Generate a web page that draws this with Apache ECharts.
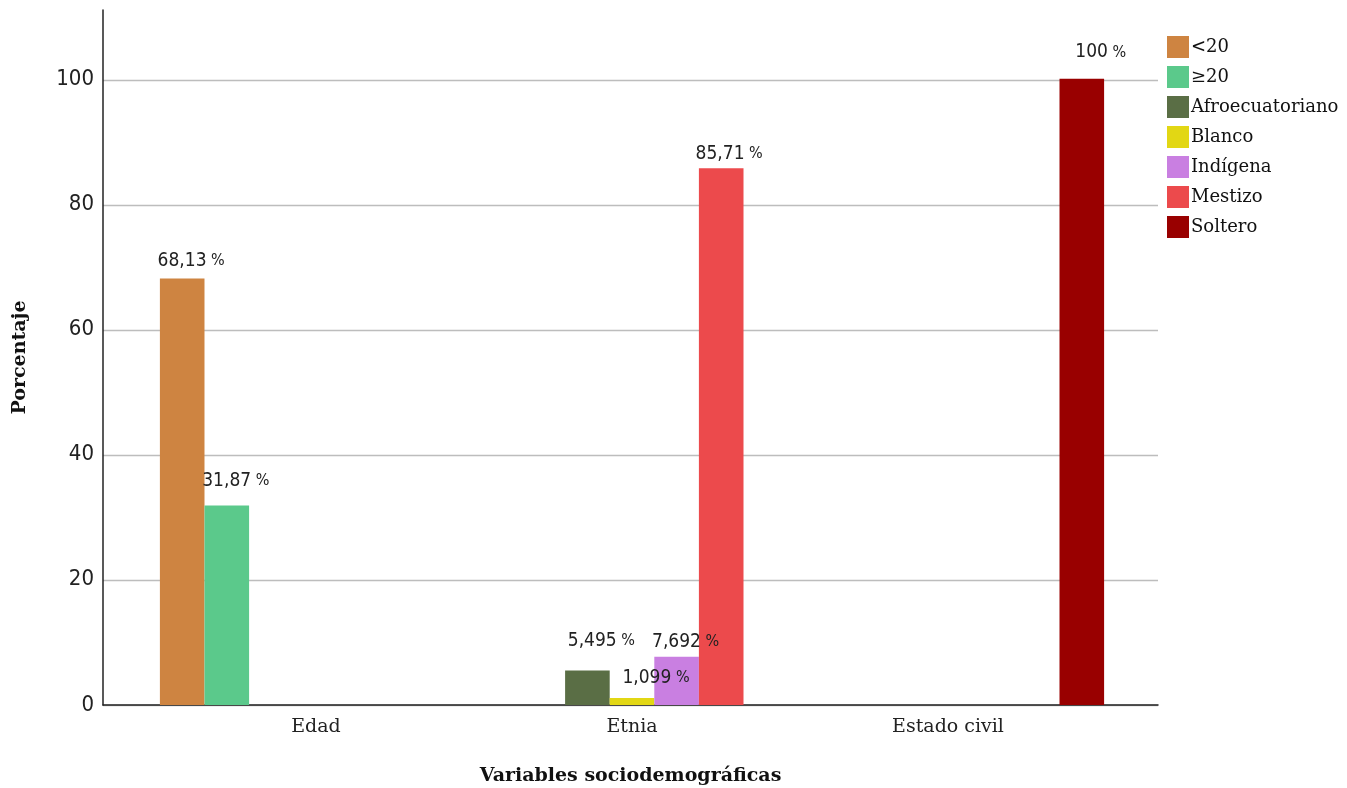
<!DOCTYPE html>
<html><head><meta charset="utf-8">
<script src="https://cdn.jsdelivr.net/npm/echarts@6/dist/echarts.min.js"></script>
<style>html,body{margin:0;padding:0;background:#fff}#c{width:1347px;height:788px}</style>
</head><body><div id="c"></div>
<script>
const categories = ['Edad', 'Etnia', 'Estado civil'];
const seriesNames = ['<20', '≥20', 'Afroecuatoriano', 'Blanco', 'Indígena', 'Mestizo', 'Soltero'];
const v_lt20 = [68.13, null, null];
const v_ge20 = [31.87, null, null];
const v_afro = [null, 5.495, null];
const v_blanco = [null, 1.099, null];
const v_indigena = [null, 7.692, null];
const v_mestizo = [null, 85.71, null];
const v_soltero = [null, null, 100];
const yTicks = [0, 20, 40, 60, 80, 100];

const seriesValues = [v_lt20, v_ge20, v_afro, v_blanco, v_indigena, v_mestizo, v_soltero];
const colors = ['#CE8441', '#5BC98B', '#5A6E45', '#E2D714', '#C97FE1', '#EC4A4C', '#990000'];
const labelShiftX = [9, 9, 14, 24, 9, 8, 19];
const labelLift = [-3, -10, -15, -6, 0, 0, -12];

const serifFont = 'DejaVu Serif';
const sansFont = "'DejaVu Sans Condensed', 'DejaVu Sans'";

const chart = echarts.init(document.getElementById('c'));
const fmt = p => '{n|' + String(p.value).replace('.', ',') + '}{p| %}';

chart.setOption({
  animation: false,
  color: colors,
  grid: [
    {left: 103, right: 189, top: 10, bottom: 83, outerBoundsMode: 'none'},
    {left: 103, right: 189, top: 80, bottom: 83, outerBoundsMode: 'none'},
    {left: 158, right: 241, top: 10, bottom: 83, outerBoundsMode: 'none'}
  ],
  legend: {
    orient: 'vertical', left: 1162, top: 31,
    itemWidth: 22, itemHeight: 22, itemGap: 8,
    icon: 'rect',
    textStyle: {fontFamily: serifFont, fontSize: 18, color: '#111', padding: [0, 0, 0, -3]},
    data: seriesNames
  },
  xAxis: [
    {gridIndex: 0, type: 'category', data: categories, axisLine: {show: true, lineStyle: {color: '#222', width: 1.5}},
     axisTick: {show: false}, axisLabel: {show: false}, splitLine: {show: false},
     name: 'Variables sociodemográficas', nameLocation: 'middle', nameGap: 62,
     nameTextStyle: {fontFamily: serifFont, fontWeight: 'bold', fontSize: 19, color: '#111'}},
    {gridIndex: 1, type: 'category', data: categories, show: false},
    {gridIndex: 2, type: 'category', data: categories, axisLine: {show: false}, axisTick: {show: false},
     axisLabel: {fontFamily: serifFont, fontSize: 19, color: '#222', margin: 13}}
  ],
  yAxis: [
    {gridIndex: 0, type: 'value', min: 0, max: 111, interval: 20,
     axisLine: {show: true, lineStyle: {color: '#222', width: 1.5}}, axisTick: {show: false},
     splitLine: {show: false},
     axisLabel: {showMaxLabel: false, fontFamily: sansFont, fontSize: 22, color: '#222', margin: 9},
     name: 'Porcentaje', nameLocation: 'middle', nameGap: 73, nameRotate: 90,
     nameTextStyle: {fontFamily: serifFont, fontWeight: 'bold', fontSize: 19, color: '#111'}},
    {gridIndex: 1, type: 'value', min: yTicks[0], max: yTicks[yTicks.length - 1], interval: 20,
     axisLine: {show: false}, axisTick: {show: false}, axisLabel: {show: false},
     splitLine: {show: true, lineStyle: {color: '#bdbdbd', width: 1.3}}},
    {gridIndex: 2, type: 'value', min: 0, max: 111, show: false}
  ],
  series: seriesNames.map((name, i) => ({
    name, type: 'bar', xAxisIndex: 2, yAxisIndex: 2,
    data: seriesValues[i],
    barGap: '0%', barCategoryGap: '1.2%',
    itemStyle: {color: colors[i]},
    label: {
      show: true, position: 'top', offset: [labelShiftX[i], labelLift[i]],
      formatter: fmt,
      rich: {
        n: {fontFamily: sansFont, fontSize: 19, color: '#222'},
        p: {fontFamily: sansFont, fontSize: 16, color: '#222'}
      }
    }
  }))
});
</script></body></html>
